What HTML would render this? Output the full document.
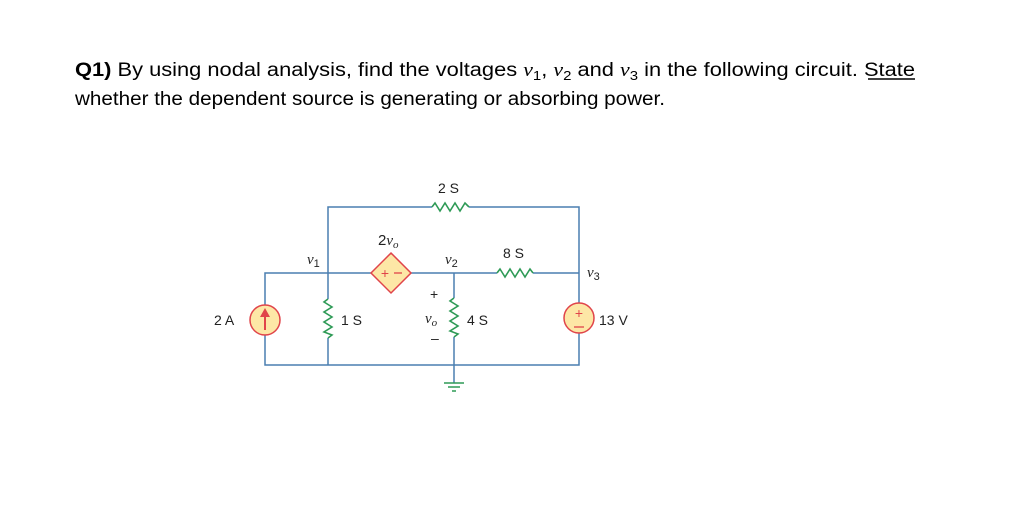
<!DOCTYPE html>
<html><head><meta charset="utf-8"><style>
html,body{margin:0;padding:0;background:#fff;}
svg{display:block;}
</style></head><body>
<svg width="1024" height="508" viewBox="0 0 1024 508" xmlns="http://www.w3.org/2000/svg" font-family="Liberation Sans, sans-serif">
<text x="75" y="76" font-size="19" fill="#000" textLength="840" lengthAdjust="spacingAndGlyphs"><tspan font-weight="bold">Q1)</tspan> By using nodal analysis, find the voltages <tspan font-family="Liberation Serif" font-style="italic">v</tspan><tspan font-size="13" dy="4">1</tspan><tspan dy="-4">, </tspan><tspan font-family="Liberation Serif" font-style="italic">v</tspan><tspan font-size="13" dy="4">2</tspan><tspan dy="-4"> and </tspan><tspan font-family="Liberation Serif" font-style="italic">v</tspan><tspan font-size="13" dy="4">3</tspan><tspan dy="-4"> in the following circuit. State</tspan></text>
<line x1="868" y1="79" x2="915" y2="79" stroke="#000" stroke-width="1.5"/>
<text x="75" y="105" font-size="19" fill="#000" textLength="590" lengthAdjust="spacingAndGlyphs">whether the dependent source is generating or absorbing power.</text>

<g stroke="#4a7fb0" stroke-width="1.5" fill="none">
<!-- top branch -->
<polyline points="328,273 328,207 432,207"/>
<polyline points="469,207 579,207 579,303"/>
<!-- middle wire -->
<polyline points="265,305 265,273 371,273"/>
<line x1="411" y1="273" x2="497" y2="273"/>
<line x1="533" y1="273" x2="579" y2="273"/>
<!-- 1S -->
<line x1="328" y1="273" x2="328" y2="299"/>
<line x1="328" y1="338" x2="328" y2="365"/>
<!-- 4S -->
<line x1="454" y1="273" x2="454" y2="298"/>
<line x1="454" y1="337" x2="454" y2="383"/>
<!-- bottom -->
<polyline points="265,335 265,365 579,365 579,333"/>
</g>
<!-- resistors -->
<g stroke="#2e9a56" stroke-width="1.6" fill="none">
<polyline points="432,207 435,203 440,211 445,203 450,211 455,203 460,211 465,203 469,207"/>
<polyline points="497,273 500,269 505,277 510,269 515,277 520,269 525,277 530,269 533,273"/>
<polyline points="328,299 324,302 332,307 324,312 332,317 324,322 332,327 324,332 332,335 328,338"/>
<polyline points="454,298 450,301 458,306 450,311 458,316 450,321 458,326 450,331 458,334 454,337"/>
</g>
<!-- ground -->
<g stroke="#2e9a56" stroke-width="1.5">
<line x1="444" y1="383" x2="464" y2="383"/>
<line x1="448" y1="387" x2="460" y2="387"/>
<line x1="452" y1="391" x2="456" y2="391"/>
</g>
<!-- current source -->
<circle cx="265" cy="320" r="15" fill="#fde7a6" stroke="#e0444a" stroke-width="1.5"/>
<line x1="265" y1="330" x2="265" y2="314" stroke="#e0444a" stroke-width="2"/>
<polygon points="265,308 260,317 270,317" fill="#e0444a"/>
<!-- voltage source -->
<circle cx="579" cy="318" r="15" fill="#fde7a6" stroke="#e0444a" stroke-width="1.5"/>
<text x="579" y="318" font-size="14" fill="#e0444a" text-anchor="middle">+</text>
<line x1="574" y1="327" x2="584" y2="327" stroke="#e0444a" stroke-width="1.3"/>
<!-- diamond -->
<polygon points="391,253 411,273 391,293 371,273" fill="#fde7a6" stroke="#e0444a" stroke-width="1.5"/>
<text x="385" y="278" font-size="14" fill="#e0444a" text-anchor="middle">+</text>
<line x1="394" y1="273" x2="402" y2="273" stroke="#e0444a" stroke-width="1.3"/>
<!-- labels -->
<g font-size="14" fill="#222">
<text x="438" y="193">2 S</text>
<text x="503" y="258">8 S</text>
<text x="214" y="325">2 A</text>
<text x="341" y="325">1 S</text>
<text x="467" y="325">4 S</text>
<text x="599" y="325">13 V</text>
<text x="430" y="299">+</text>
<text x="431" y="343">–</text>
</g>
<g font-family="Liberation Serif" font-style="italic" font-size="15" fill="#222">
<text x="307" y="264">v<tspan font-style="normal" font-family="Liberation Sans" font-size="11" dy="3">1</tspan></text>
<text x="445" y="264">v<tspan font-style="normal" font-family="Liberation Sans" font-size="11" dy="3">2</tspan></text>
<text x="587" y="277">v<tspan font-style="normal" font-family="Liberation Sans" font-size="11" dy="3">3</tspan></text>
<text x="378" y="245"><tspan font-style="normal" font-family="Liberation Sans">2</tspan>v<tspan font-size="11" dy="3">o</tspan></text>
<text x="425" y="323">v<tspan font-size="11" dy="3">o</tspan></text>
</g>
</svg>
</body></html>
